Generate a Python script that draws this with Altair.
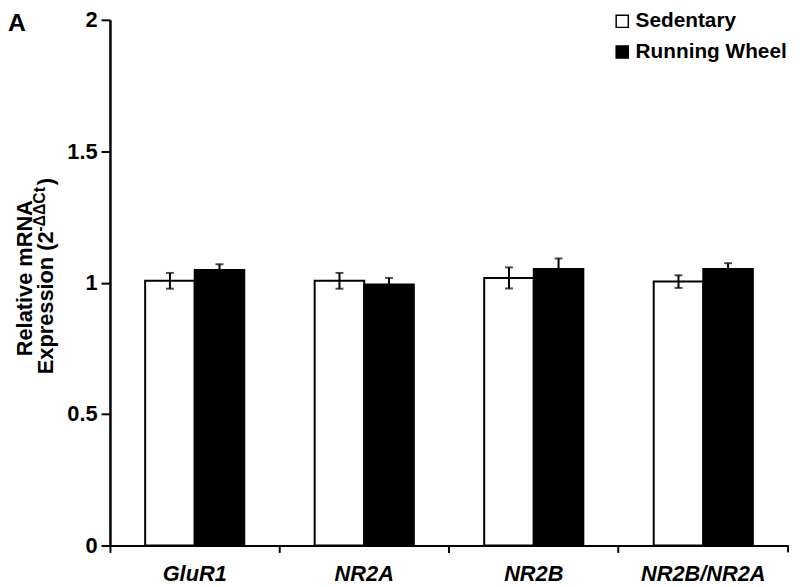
import altair as alt
import pandas as pd

genes = ["GluR1", "NR2A", "NR2B", "NR2B/NR2A"]
groups = ["Sedentary", "Running Wheel"]
sed_mean = [1.007, 1.007, 1.018, 1.004]
sed_err = [0.030, 0.030, 0.040, 0.024]
run_mean = [1.048, 0.993, 1.052, 1.052]
run_err = [0.022, 0.025, 0.040, 0.022]

rows = []
for g, m, e in zip(genes, sed_mean, sed_err):
    rows.append({"gene": g, "group": "Sedentary", "mean": m, "err": e})
for g, m, e in zip(genes, run_mean, run_err):
    rows.append({"gene": g, "group": "Running Wheel", "mean": m, "err": e})
df = pd.DataFrame(rows)
df["lo"] = df["mean"] - df["err"]
df["hi"] = df["mean"] + df["err"]

W, H = 685, 531
TOP = 9
FONT = "Liberation Sans"

xenc = alt.X("gene:N", sort=genes, scale=alt.Scale(paddingInner=0, paddingOuter=0),
             axis=alt.Axis(title=None, bandPosition=0, labelAngle=0,
                           labelFont=FONT, labelFontSize=22, labelFontWeight="bold",
                           labelFontStyle="italic", labelColor="black", labelPadding=11,
                           tickSize=7, tickWidth=2, tickColor="black",
                           domainWidth=2, domainColor="black"))
xoff = alt.XOffset("group:N", sort=groups,
                   scale=alt.Scale(domain=groups, paddingInner=0, paddingOuter=0.71))
yscale = alt.Scale(domain=[0, 2], nice=False)

base = alt.Chart(df)

bars = base.mark_bar(stroke="black", strokeWidth=2).encode(
    x=xenc,
    xOffset=xoff,
    y=alt.Y("mean:Q", scale=yscale,
            axis=alt.Axis(title=None, values=[0, 0.5, 1, 1.5, 2], format="~g", grid=False,
                          labelFont=FONT, labelFontSize=22, labelFontWeight="bold",
                          labelColor="black", labelPadding=4,
                          tickSize=9, tickWidth=2, tickColor="black",
                          domainWidth=2.5, domainColor="black")),
    fill=alt.Fill("group:N", sort=groups,
                  scale=alt.Scale(domain=groups, range=["white", "black"]),
                  legend=alt.Legend(title=None, orient="none", legendX=507, legendY=-TOP,
                                    symbolType="square", symbolSize=150,
                                    symbolStrokeColor="black", symbolStrokeWidth=1.5,
                                    labelFont=FONT, labelFontSize=21, labelFontWeight="bold",
                                    labelColor="black", labelOffset=3, rowPadding=9)),
)

rules = base.mark_rule(color="black", strokeWidth=2).encode(
    x=alt.X("gene:N", sort=genes), xOffset=xoff,
    y=alt.Y("lo:Q", scale=yscale), y2="hi:Q")
caps_hi = base.mark_tick(color="black", thickness=2, size=8).encode(
    x=alt.X("gene:N", sort=genes), xOffset=xoff, y=alt.Y("hi:Q", scale=yscale))
caps_lo = base.mark_tick(color="black", thickness=2, size=8).encode(
    x=alt.X("gene:N", sort=genes), xOffset=xoff, y=alt.Y("lo:Q", scale=yscale))

one = pd.DataFrame({"k": [0]})
end_tick = alt.Chart(one).mark_rule(color="black", strokeWidth=2).encode(
    x=alt.value(W), y=alt.value(H), y2=alt.value(H + 7))

def txt(s, x, y, size, align="left", angle=270, baseline="middle", style="normal"):
    return alt.Chart(one).mark_text(text=s, font=FONT, fontSize=size, fontWeight="bold",
                                    fontStyle=style, color="black", align=align,
                                    angle=angle, baseline=baseline).encode(
        x=alt.value(x), y=alt.value(y))

t1 = txt("Relative mRNA", -86, 261, 22, align="center")
t2 = txt("Expression (2", -65, 358, 22)
t3 = txt("-ΔΔCt", -71, 214, 16)
t4 = txt(")", -65, 167, 22)
tA = txt("A", -103, -TOP, 25, angle=0, baseline="top")

chart = alt.layer(bars, rules, caps_lo, caps_hi, end_tick, t1, t2, t3, t4, tA).properties(
    width=W, height=H,
    autosize=alt.AutoSizeParams(type="none"),
    padding={"left": 103, "top": TOP, "right": 4, "bottom": 39},
).configure_view(stroke=None).resolve_scale(fill="independent")

chart.save("out.html", embed_options={"renderer": "svg", "actions": False})
